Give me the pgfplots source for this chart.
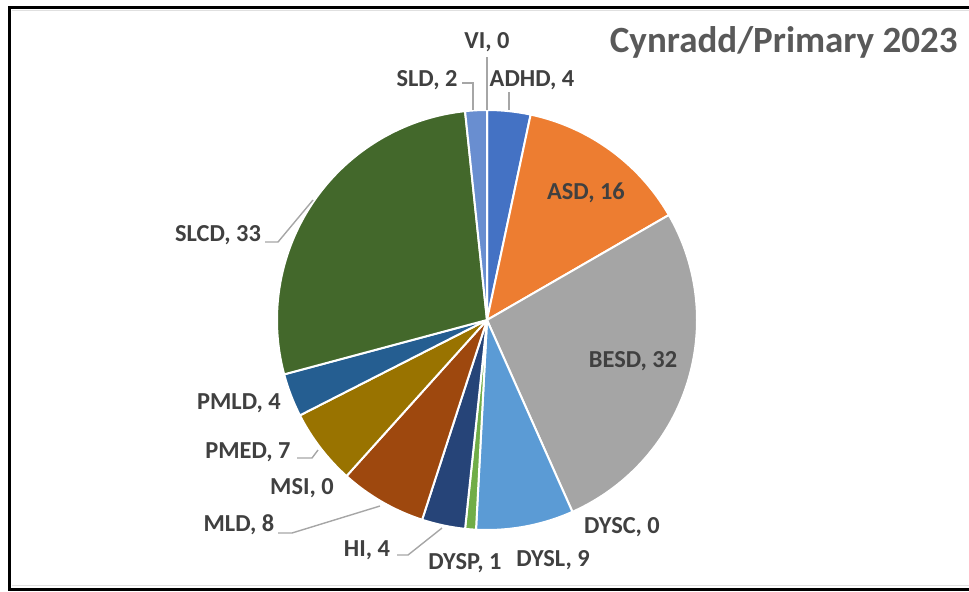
\documentclass[border=0pt]{standalone}
\usepackage{fontspec}
\setmainfont{Carlito}
\usepackage{pgfplots}
\usepackage{pgfplotstable}
\pgfplotsset{compat=1.18}

% Office palette, one colour per category (alphabetical order)
\definecolor{cADHD}{HTML}{4472C4}
\definecolor{cASD}{HTML}{ED7D31}
\definecolor{cBESD}{HTML}{A5A5A5}
\definecolor{cDYSC}{HTML}{FFC000}
\definecolor{cDYSL}{HTML}{5B9BD5}
\definecolor{cDYSP}{HTML}{70AD47}
\definecolor{cHI}{HTML}{264478}
\definecolor{cMLD}{HTML}{9E480E}
\definecolor{cMSI}{HTML}{636363}
\definecolor{cPMED}{HTML}{997300}
\definecolor{cPMLD}{HTML}{255E91}
\definecolor{cSLCD}{HTML}{43682B}
\definecolor{cSLD}{HTML}{698ED0}
\definecolor{cVI}{HTML}{F1975A}
\definecolor{labtext}{HTML}{404040}
\definecolor{titletext}{HTML}{595959}
\definecolor{leader}{HTML}{A6A6A6}

\pgfplotstableread{
name  value col
ADHD  4     cADHD
ASD   16    cASD
BESD  32    cBESD
DYSC  0     cDYSC
DYSL  9     cDYSL
DYSP  1     cDYSP
HI    4     cHI
MLD   8     cMLD
MSI   0     cMSI
PMED  7     cPMED
PMLD  4     cPMLD
SLCD  33    cSLCD
SLD   2     cSLD
VI    0     cVI
}\pietable

\tikzset{lab/.style={font=\fontsize{12.2}{14}\selectfont\bfseries,text=labtext,inner sep=0pt}}

\begin{document}
\begin{tikzpicture}
\begin{axis}[x=0.5pt,y=0.5pt,xmin=0,xmax=969,ymin=0,ymax=591,hide axis,clip=false]
\coordinate (BL) at (axis cs:0,0);
\coordinate (TR) at (axis cs:969,591);
% frame
\draw[line width=1.5pt,black] (axis cs:9.5,584) rectangle (axis cs:1000,2);
\draw[line width=0.6pt,black!12] (axis cs:12,580.5) -- (axis cs:1000,580.5);
\draw[line width=0.6pt,black!12] (axis cs:12,5.5) -- (axis cs:1000,5.5);
% total
\def\total{0}
\pgfplotsforeachungrouped \i in {0,...,13}{
  \pgfplotstablegetelem{\i}{value}\of\pietable
  \pgfmathsetmacro\total{\total+\pgfplotsretval}
}
% slices, clockwise from the top
\def\cum{0}
\pgfplotsforeachungrouped \i in {0,...,13}{
  \pgfplotstablegetelem{\i}{value}\of\pietable \let\v=\pgfplotsretval
  \pgfplotstablegetelem{\i}{col}\of\pietable \let\c=\pgfplotsretval
  \pgfmathsetmacro\sa{90-\cum/\total*360}
  \pgfmathsetmacro\cum{\cum+\v}
  \pgfmathsetmacro\ea{90-\cum/\total*360}
  \ifdim\v pt>0pt
    \edef\temp{\noexpand\filldraw[fill=\c,draw=white,line width=1pt,line join=round]
      (axis cs:487,271) -- ++(\sa:105pt) arc[start angle=\sa,end angle=\ea,radius=105pt] -- cycle;}
    \temp
  \fi
}
% leader lines
\draw[leader,line width=0.7pt] (axis cs:487,534) -- (axis cs:487,481);
\draw[leader,line width=0.7pt] (axis cs:462,508) -- (axis cs:473,508) -- (axis cs:473,481);
\draw[leader,line width=0.7pt] (axis cs:509,499) -- (axis cs:509,481);
\draw[leader,line width=0.7pt] (axis cs:397,36) -- (axis cs:408,36) -- (axis cs:442,63);
\draw[leader,line width=0.7pt] (axis cs:278,58) -- (axis cs:292,58) -- (axis cs:380,85);
\draw[leader,line width=0.7pt] (axis cs:297,133) -- (axis cs:312,133) -- (axis cs:318,141);
\draw[leader,line width=0.7pt] (axis cs:265,349) -- (axis cs:278,349) -- (axis cs:313,391);
% data labels
\node[lab] at (axis cs:487,549) {VI, 0};
\node[lab] at (axis cs:427,511) {SLD, 2};
\node[lab] at (axis cs:532,511) {ADHD, 4};
\node[lab] at (axis cs:586,398) {ASD, 16};
\node[lab] at (axis cs:633,230) {BESD, 32};
\node[lab] at (axis cs:622,64) {DYSC, 0};
\node[lab] at (axis cs:553,31) {DYSL, 9};
\node[lab] at (axis cs:465,28) {DYSP, 1};
\node[lab] at (axis cs:367,41) {HI, 4};
\node[lab] at (axis cs:239,66) {MLD, 8};
\node[lab] at (axis cs:302,103) {MSI, 0};
\node[lab] at (axis cs:248,139) {PMED, 7};
\node[lab] at (axis cs:239,188) {PMLD, 4};
\node[lab] at (axis cs:218,356) {SLCD, 33};
% title
\node[anchor=east,inner sep=0pt,font=\fontsize{18.5}{22}\selectfont\bfseries,text=titletext] at (axis cs:958,549) {Cynradd/Primary 2023};
\end{axis}
\pgfresetboundingbox
\path (BL) rectangle (TR);
\end{tikzpicture}
\end{document}
